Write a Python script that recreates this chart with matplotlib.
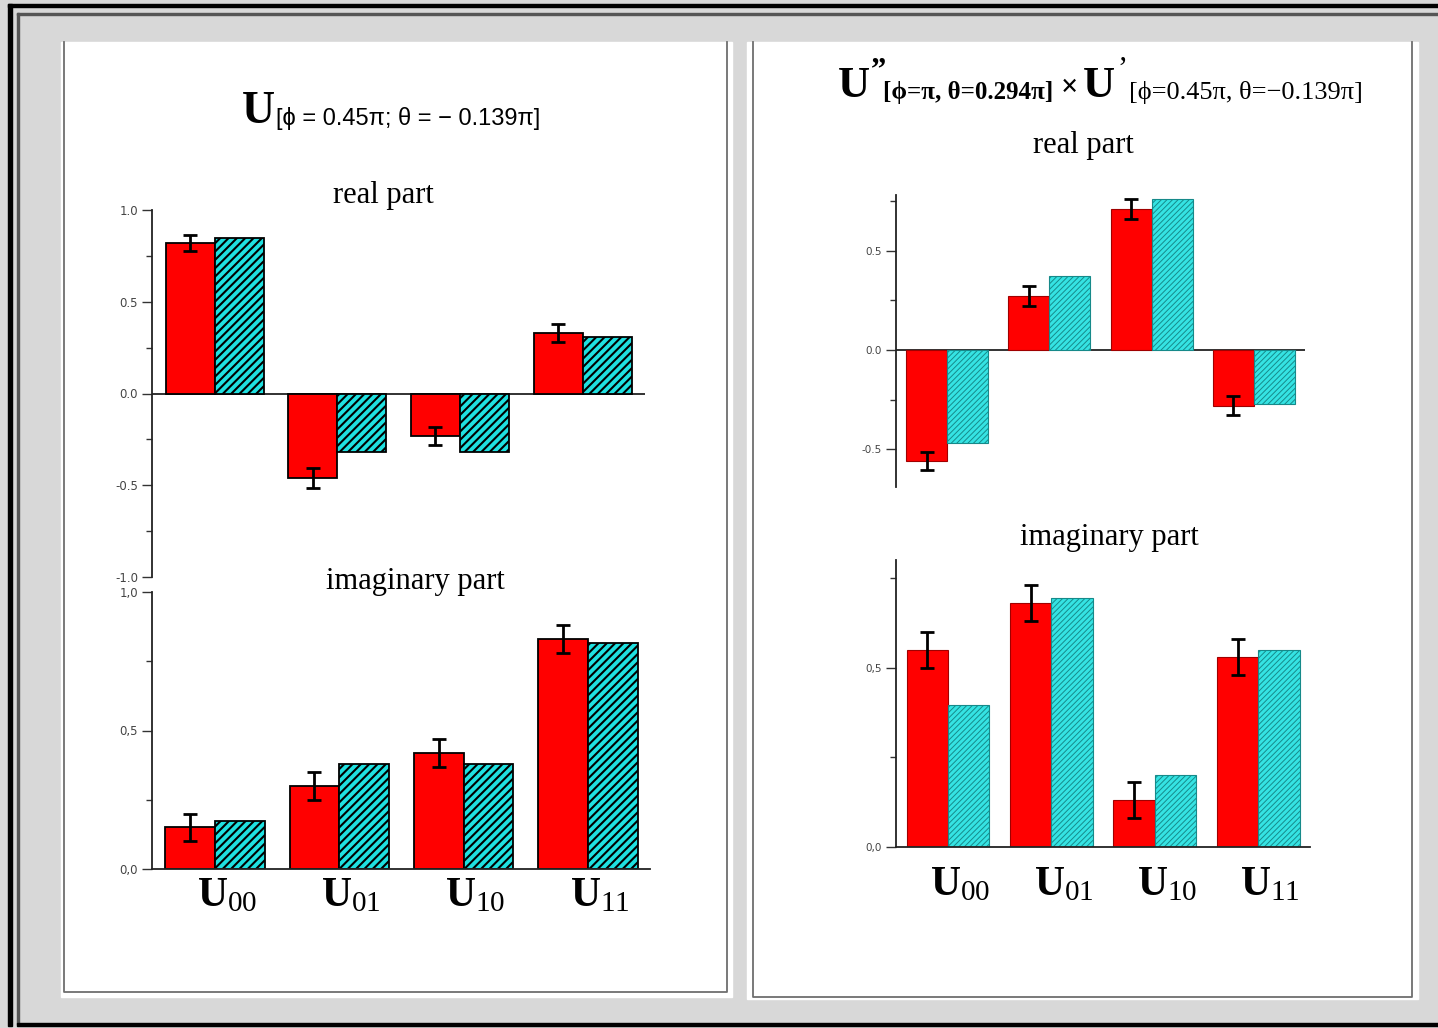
import matplotlib
matplotlib.use("Agg")
import matplotlib.pyplot as plt
import numpy as np
from matplotlib.patches import Rectangle
from matplotlib.ticker import MultipleLocator, FuncFormatter
from matplotlib.transforms import ScaledTranslation

plt.rcParams['mathtext.fontset'] = 'custom'
plt.rcParams['mathtext.rm'] = 'Liberation Serif'
plt.rcParams['mathtext.bf'] = 'Liberation Serif:bold'
plt.rcParams['mathtext.it'] = 'Liberation Serif:italic'

# bar labels U_00 .. U_11
labels = ['00', '01', '10', '11']

# left panel: U[phi=0.45pi; theta=-0.139pi]
left_re_exp = [0.82, -0.46, -0.23, 0.33]
left_re_err = [0.045, 0.055, 0.05, 0.05]
left_re_th = [0.85, -0.32, -0.32, 0.31]
left_im_exp = [0.15, 0.30, 0.42, 0.83]
left_im_err = [0.05, 0.05, 0.05, 0.05]
left_im_th = [0.175, 0.38, 0.38, 0.815]

# right panel: U''[phi=pi, theta=0.294pi] x U'[phi=0.45pi, theta=-0.139pi]
right_re_exp = [-0.56, 0.27, 0.71, -0.28]
right_re_err = [0.045, 0.05, 0.05, 0.05]
right_re_th = [-0.47, 0.37, 0.76, -0.27]
right_im_exp = [0.55, 0.68, 0.13, 0.53]
right_im_err = [0.05, 0.05, 0.05, 0.05]
right_im_th = [0.395, 0.695, 0.20, 0.55]

W, H = 1438, 1028
fig = plt.figure(figsize=(W / 100, H / 100), dpi=100)
fig.patch.set_facecolor('#d8d8d8')


def box(x0, y0, x1, y1):
    return [x0 / W, 1 - y1 / H, (x1 - x0) / W, (y1 - y0) / H]


# background layer in pixel coordinates (y down)
bg = fig.add_axes([0, 0, 1, 1], zorder=-5)
bg.set_xlim(0, W)
bg.set_ylim(H, 0)
bg.axis('off')

# window frame
bg.add_patch(Rectangle((8, 4), W - 8, 3, color='black'))
bg.add_patch(Rectangle((8, 4), 4, 1022, color='black'))
bg.add_patch(Rectangle((17, 13), W - 17, 2, color='#555555'))
bg.add_patch(Rectangle((17, 13), 2, 1011, color='#555555'))
bg.add_patch(Rectangle((17, 1023), W - 17, 3, color='black'))

# white panels with thin borders
for (x0, x1, y1, lx, rx, by) in [(61, 732, 997, 64, 727, 992),
                                 (747, 1418, 999, 753, 1412, 997)]:
    bg.add_patch(Rectangle((x0, 42), x1 - x0, y1 - 42, color='white'))
    bg.plot([lx, lx, rx, rx], [42, by, by, 42], color='#6e6e6e', lw=1.3)

x = np.arange(len(labels))
w = 0.4
xt = [r'$\mathbf{U}_{\mathrm{' + s + '}}$' for s in labels]


def style_axis(ax, zero_line, comma, lab_size):
    ax.set_facecolor('none')
    for s in ['top', 'right']:
        ax.spines[s].set_visible(False)
    ax.spines['left'].set_linewidth(1.3)
    ax.spines['left'].set_color('#222222')
    if zero_line:
        ax.spines['bottom'].set_visible(False)
        ax.axhline(0, color='#222222', lw=1.3, zorder=1)
    else:
        ax.spines['bottom'].set_linewidth(1.3)
        ax.spines['bottom'].set_color('#222222')
    ax.yaxis.set_minor_locator(MultipleLocator(0.25))
    ax.yaxis.set_major_locator(MultipleLocator(0.5))
    if comma:
        ax.yaxis.set_major_formatter(FuncFormatter(lambda v, p: f'{v:.1f}'.replace('.', ',')))
    else:
        ax.yaxis.set_major_formatter(FuncFormatter(lambda v, p: f'{v:.1f}'.replace('-0.0', '0.0')))
    ax.tick_params(axis='y', which='major', length=7, width=1, color='#333333',
                   labelsize=lab_size, labelcolor='#444444', pad=3)
    ax.tick_params(axis='y', which='minor', length=4, width=1, color='#333333')


def draw(ax, exp, err, th, ylim, xlim, left_style, zero_line, comma,
         show_xlabels, lab_pad, lab_size):
    if left_style:
        plt.rcParams['hatch.linewidth'] = 1.5
        ax.bar(x - w / 2, exp, w, color='#ff0000', edgecolor='black', lw=1.3, zorder=2)
        bars = ax.bar(x + w / 2, th, w, color='#1fe0e0', edgecolor='black',
                      lw=1.3, hatch='////', zorder=2)
        hl = 1.5
    else:
        plt.rcParams['hatch.linewidth'] = 0.7
        ax.bar(x - w / 2, exp, w, color='#ff0000', edgecolor='#a00000', lw=0.8, zorder=2)
        bars = ax.bar(x + w / 2, th, w, color='#35e3e3', edgecolor='#168a8a',
                      lw=0.8, hatch='//////', zorder=2)
        hl = 0.7
    for b in bars:
        try:
            b.set_hatch_linewidth(hl)
        except AttributeError:
            pass
    ax.errorbar(x - w / 2, exp, yerr=err, fmt='none', ecolor='black',
                elinewidth=2, capsize=5, capthick=2, zorder=3)
    ax.set_ylim(*ylim)
    ax.set_xlim(*xlim)
    style_axis(ax, zero_line, comma, lab_size)
    if show_xlabels:
        ax.set_xticks(x, xt)
        ax.tick_params(axis='x', length=0, labelsize=30, pad=lab_pad)
        for t in ax.get_xticklabels():
            t.set_transform(t.get_transform() + ScaledTranslation(0.12, 0, fig.dpi_scale_trans))
    else:
        ax.set_xticks([])


axLT = fig.add_axes(box(152, 210, 645, 577))
draw(axLT, left_re_exp, left_re_err, left_re_th, (-1, 1), (-0.514, 3.51),
     True, True, False, False, 0, 8.5)
axLB = fig.add_axes(box(152, 592, 650, 869))
draw(axLB, left_im_exp, left_im_err, left_im_th, (0, 1), (-0.507, 3.5),
     True, False, True, True, 3, 8.5)
axRT = fig.add_axes(box(896, 195, 1305, 487))
draw(axRT, right_re_exp, right_re_err, right_re_th, (-0.69, 0.78), (-0.5, 3.5),
     False, True, False, False, 0, 7.5)
axRB = fig.add_axes(box(896, 560, 1310, 847))
draw(axRB, right_im_exp, right_im_err, right_im_th, (0, 0.80), (-0.503, 3.5),
     False, False, True, True, 11, 7.5)

serif = 'Liberation Serif'
sub_font = dict(family=serif, fontsize=22, ha='center', va='center')
bg.text(383, 196, 'real part', **sub_font)
bg.text(415, 582, 'imaginary part', **sub_font)
bg.text(1083, 146, 'real part', **sub_font)
bg.text(1109, 537, 'imaginary part', **sub_font)


def chain(prev, s, y, dx, **kw):
    return bg.annotate(s, xy=(1, y), xycoords=(prev, 'data'), xytext=(dx, 0),
                       textcoords='offset pixels', ha='left', va='baseline', **kw)


# left title
u1 = bg.text(242, 123, 'U', family=serif, weight='bold', fontsize=33, va='baseline')
chain(u1, '[ϕ = 0.45π; θ = − 0.139π]', 125, 1, family='Liberation Sans', fontsize=17)

# right title
u2 = bg.text(838, 97, 'U', family=serif, weight='bold', fontsize=32, va='baseline')
chain(u2, '\u201d', 78, 1, family=serif, weight='bold', fontsize=22)
s2 = chain(u2, '[ϕ=π, θ=0.294π]', 99, 13, family=serif, weight='bold', fontsize=18)
m2 = chain(s2, '×', 96, 7, family=serif, weight='bold', fontsize=22)
u3 = chain(m2, 'U', 97, 5, family=serif, weight='bold', fontsize=32)
chain(u3, '\u2019', 78, 2, family=serif, fontsize=22)
chain(u3, '[ϕ=0.45π, θ=−0.139π]', 99, 14, family=serif, fontsize=19)

fig.savefig('out.png', dpi=100, facecolor=fig.get_facecolor())
